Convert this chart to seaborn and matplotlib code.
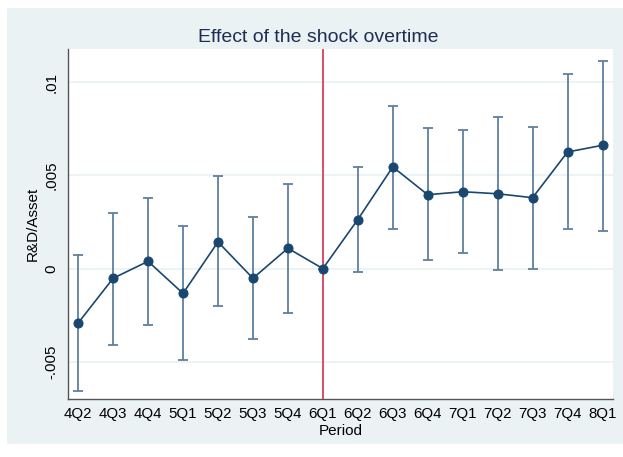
import numpy as np
import pandas as pd
import matplotlib
matplotlib.use("Agg")
import matplotlib.pyplot as plt
import seaborn as sns
from matplotlib.patches import Rectangle

# periods and estimates
periods = ["4Q2", "4Q3", "4Q4", "5Q1", "5Q2", "5Q3", "5Q4", "6Q1",
           "6Q2", "6Q3", "6Q4", "7Q1", "7Q2", "7Q3", "7Q4", "8Q1"]
coef = [-0.00292, -0.00052, 0.00039, -0.00133, 0.00143, -0.00052, 0.00109, 0.0,
        0.00263, 0.00545, 0.00396, 0.00412, 0.00401, 0.00380, 0.00625, 0.00661]
ci_low = [-0.00656, -0.00407, -0.00300, -0.00490, -0.00203, -0.00380, -0.00237, 0.0,
          -0.00018, 0.00213, 0.00045, 0.00081, -0.00010, 0.00000, 0.00213, 0.00200]
ci_high = [0.00075, 0.00297, 0.00378, 0.00229, 0.00495, 0.00274, 0.00453, 0.0,
           0.00545, 0.00873, 0.00753, 0.00745, 0.00810, 0.00758, 0.01045, 0.01115]
yticks = [-0.005, 0, 0.005, 0.01]
ytick_labels = ["-.005", "0", ".005", ".01"]

df = pd.DataFrame({"pos": np.arange(len(periods)), "period": periods,
                   "coef": coef, "lo": ci_low, "hi": ci_high})

sns.set_theme(style="white")
plt.rcParams["font.family"] = ["Liberation Sans", "DejaVu Sans"]

bg = "#eaf2f3"
navy = "#1a476f"
fig = plt.figure(figsize=(6.23, 4.57), dpi=100, facecolor="white")
# outer graph region
fig.add_artist(Rectangle((7 / 623, 1 - 444 / 457), 616 / 623, 436 / 457,
                         transform=fig.transFigure, facecolor=bg,
                         edgecolor="none", zorder=-5))
ax = fig.add_axes([68 / 623, 1 - 399 / 457, 545 / 623, 350 / 457])
ax.set_facecolor("white")

# horizontal grid
for v in yticks:
    ax.axhline(v, color=bg, lw=1.3, zorder=0)

# confidence intervals
ax.errorbar(df["pos"], df["coef"],
            yerr=[df["coef"] - df["lo"], df["hi"] - df["coef"]],
            fmt="none", ecolor="#5f7f9e", elinewidth=1.3, capsize=3.3,
            capthick=1.3, zorder=2)

# vertical line at the shock
ax.axvline(7, color="#d6405a", lw=1.3, zorder=3)

sns.lineplot(data=df, x="pos", y="coef", ax=ax, color=navy, lw=1.2,
             marker="o", markersize=6.5, markeredgecolor=navy, zorder=4)

ax.set_xlim(-0.29, 15.3)
ax.set_ylim(-0.00699, 0.01177)
ax.set_xticks(df["pos"])
ax.set_xticklabels(periods, fontsize=10.8)
ax.set_yticks(yticks)
ax.set_yticklabels(ytick_labels, fontsize=10.8, rotation=90, va="center")
ax.tick_params(axis="both", direction="out", length=4, width=1,
               color="#555555", pad=2, labelcolor="black")
ax.tick_params(axis="y", pad=3)

for s in ["top", "right"]:
    ax.spines[s].set_visible(False)
for s in ["left", "bottom"]:
    ax.spines[s].set_color("#555555")
    ax.spines[s].set_linewidth(1)

ax.set_xlabel("Period", fontsize=11, color="black", labelpad=2)
ax.set_ylabel("R&D/Asset", fontsize=11, color="black", labelpad=3)
fig.text(318 / 623, 1 - 37 / 457, "Effect of the shock overtime", fontsize=14,
         color="#1e2d53", ha="center", va="center")

fig.savefig("out.png", dpi=100, facecolor="white")
